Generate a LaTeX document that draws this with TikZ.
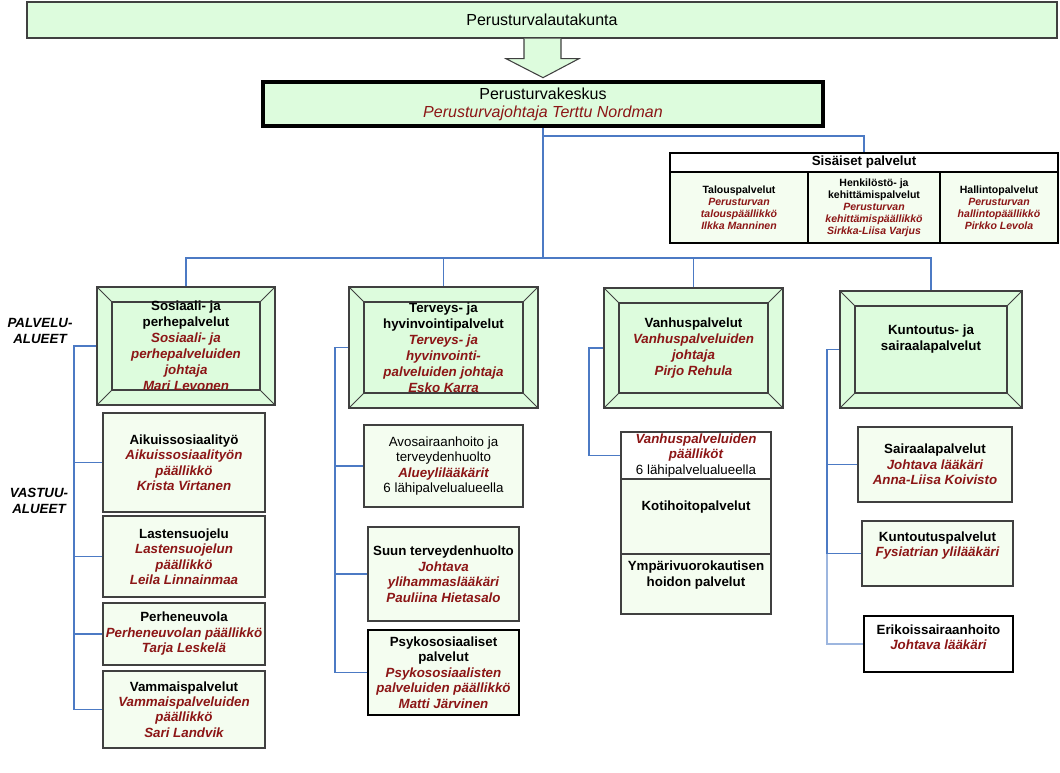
\documentclass[tikz,border=0pt]{standalone}
\usepackage{fontspec}
\setmainfont{Liberation Sans}
\definecolor{PaleGreen}{RGB}{221,252,221}
\definecolor{MintWhite}{RGB}{244,253,240}
\definecolor{DarkRed}{RGB}{140,22,22}
\definecolor{LineBlue}{RGB}{76,122,196}
\definecolor{FrameGray}{RGB}{64,64,64}
\newcommand{\resp}[1]{\textcolor{DarkRed}{\bfseries\itshape #1}}
\tikzset{
  boxsize/.style 2 args={minimum width=#1*0.75pt, minimum height=#2*0.75pt},
  topbox/.style={draw=FrameGray, fill=PaleGreen, line width=1pt, inner sep=1pt,
                 font=\fontsize{12}{14}\selectfont},
  headbox/.style={draw=black, fill=PaleGreen, line width=3pt, inner sep=1pt, align=center,
                  font=\fontsize{12}{13.5}\selectfont},
  bevel/.style={draw=FrameGray, fill=PaleGreen, line width=1.2pt, inner sep=1pt, align=center,
                font=\fontsize{10}{12}\selectfont\bfseries,
                path picture={
                  \coordinate (nw) at (path picture bounding box.north west);
                  \coordinate (ne) at (path picture bounding box.north east);
                  \coordinate (sw) at (path picture bounding box.south west);
                  \coordinate (se) at (path picture bounding box.south east);
                  \draw[FrameGray, line width=1.2pt] ([shift={(15,15)}]nw) rectangle ([shift={(-15,-15)}]se);
                  \draw[FrameGray, line width=0.6pt] (nw) -- ++(15,15) (ne) -- ++(-15,15)
                       (sw) -- ++(15,-15) (se) -- ++(-15,-15);
                }},
  sishead/.style={draw=black, fill=white, line width=1.1pt, inner sep=1pt,
                  font=\fontsize{10}{12}\selectfont\bfseries},
  siscol/.style={draw=black, fill=MintWhite, line width=1.1pt, inner sep=1pt, align=center,
                 font=\fontsize{7.9}{9}\selectfont\bfseries},
  unitbox/.style={draw=FrameGray, fill=MintWhite, line width=0.9pt, inner sep=1pt, align=center,
                  font=\fontsize{10}{11.6}\selectfont\bfseries},
  areatag/.style={align=center, font=\fontsize{10}{12}\selectfont\bfseries\itshape},
  link/.style={draw=LineBlue, line width=1.1pt}
}
\begin{document}
\begin{tikzpicture}[x=0.75pt, y=-0.75pt]
\useasboundingbox (0,0) rectangle (1060,773);

% top levels
\node[topbox, boxsize={1030}{36}] (lauta) at (542,20) {Perusturvalautakunta};
\draw[draw=FrameGray, fill=PaleGreen, line width=0.8pt] (lauta.south) ++(-18,0) -- ++(0,20) -- ++(-18,0)
     -- ++(37,19) -- ++(36,-19) -- ++(-18,0) -- ++(0,-20);
\node[headbox, boxsize={560}{44}] (kesk) at (543,104)
  {Perusturvakeskus\\\textcolor{DarkRed}{\itshape Perusturvajohtaja Terttu Nordman}};

% internal services
\node[sishead, boxsize={388}{19}] (sis) at (864,162.5) {Sisäiset palvelut};
\node[siscol, boxsize={138}{71}] (talo) at (739,207.5)
  {Talouspalvelut\\\resp{Perusturvan}\\\resp{talouspäällikkö}\\\resp{Ilkka Manninen}};
\node[siscol, boxsize={132}{71}] (henk) at (874,207.5)
  {Henkilöstö- ja\\kehittämispalvelut\\\resp{Perusturvan}\\\resp{kehittämispäällikkö}\\\resp{Sirkka-Liisa Varjus}};
\node[siscol, boxsize={118}{71}] (hall) at (999,207.5)
  {Hallintopalvelut\\\resp{Perusturvan}\\\resp{hallintopäällikkö}\\\resp{Pirkko Levola}};

% service areas
\node[bevel, boxsize={178}{118}] (sos) at (186,346)
  {Sosiaali- ja\\perhepalvelut\\\resp{Sosiaali- ja}\\\resp{perhepalveluiden}\\\resp{johtaja}\\\resp{Mari Levonen}};
\node[bevel, boxsize={189}{121}] (terv) at (443.5,347.5)
  {Terveys- ja\\hyvinvointipalvelut\\\resp{Terveys- ja}\\\resp{hyvinvointi-}\\\resp{palveluiden johtaja}\\\resp{Esko Karra}};
\node[bevel, boxsize={179}{120}] (vanh) at (693.5,348)
  {Vanhuspalvelut\\\resp{Vanhuspalveluiden}\\\resp{johtaja}\\\resp{Pirjo Rehula}};
\node[bevel, boxsize={182}{117}, text depth=17pt] (kunt) at (931,349.5)
  {Kuntoutus- ja\\sairaalapalvelut};

\node[areatag] (palv) at (40,331) {PALVELU-\\ALUEET};
\node[areatag] (vast) at (39,501) {VASTUU-\\ALUEET};

% responsibility areas
\node[unitbox, boxsize={162}{99}, text depth=-10.5pt] (aik) at (184,462.5)
  {Aikuissosiaalityö\\\resp{Aikuissosiaalityön}\\\resp{päällikkö}\\\resp{Krista Virtanen}};
\node[unitbox, boxsize={162}{81}] (last) at (184,556.5)
  {Lastensuojelu\\\resp{Lastensuojelun}\\\resp{päällikkö}\\\resp{Leila Linnainmaa}};
\node[unitbox, boxsize={162}{62}] (perh) at (184,634)
  {Perheneuvola\\\resp{Perheneuvolan päällikkö}\\\resp{Tarja Leskelä}};
\node[unitbox, boxsize={162}{77}] (vamm) at (184,709.5)
  {Vammaispalvelut\\\resp{Vammaispalveluiden}\\\resp{päällikkö}\\\resp{Sari Landvik}};

\node[unitbox, boxsize={159}{82}] (avo) at (443.5,466)
  {\textmd{Avosairaanhoito ja}\\\textmd{terveydenhuolto}\\\resp{Alueylilääkärit}\\\textmd{6 lähipalvelualueella}};
\node[unitbox, boxsize={151}{94}, text depth=-10.5pt] (suun) at (443.5,574)
  {Suun terveydenhuolto\\\resp{Johtava}\\\resp{ylihammaslääkäri}\\\resp{Pauliina Hietasalo}};
\node[unitbox, draw=black, boxsize={151}{85}] (psyk) at (443.5,672.5)
  {Psykososiaaliset\\palvelut\\\resp{Psykososiaalisten}\\\resp{palveluiden päällikkö}\\\resp{Matti Järvinen}};

\node[unitbox, fill=white, boxsize={150}{47}] (vpaal) at (696,455.5)
  {\resp{Vanhuspalveluiden}\\\resp{päälliköt}\\\textmd{6 lähipalvelualueella}};
\node[unitbox, boxsize={150}{75}, text depth=15.6pt] (koti) at (696,516.5) {Kotihoitopalvelut};
\node[unitbox, boxsize={150}{60}, text depth=15.6pt] (ymp) at (696,584)
  {Ympärivuorokautisen\\hoidon palvelut};

\node[unitbox, boxsize={154}{75}] (sair) at (935,464.5)
  {Sairaalapalvelut\\\resp{Johtava lääkäri}\\\resp{Anna-Liisa Koivisto}};
\node[unitbox, boxsize={151}{65}, text depth=14pt] (kunto) at (937.5,553.5)
  {Kuntoutuspalvelut\\\resp{Fysiatrian ylilääkäri}};
\node[unitbox, draw=black, fill=white, boxsize={149}{56}, text depth=10.5pt] (erik) at (938.5,644)
  {Erikoissairaanhoito\\\resp{Johtava lääkäri}};

% connectors
\coordinate (bus) at (543,258);
\coordinate (sx) at (74,0);
\coordinate (tx) at (335,0);
\coordinate (vx) at (589,0);
\coordinate (kx) at (827,0);
\draw[link] (kesk.south) -- (bus);
\draw[link] (kesk.south |- 0,136) -| (sis.north);
\draw[link] (sos.north) -- (sos.north |- bus) -- (kunt.north |- bus) -- (kunt.north);
\draw[link] (terv.north) -- (terv.north |- bus);
\draw[link, line width=0.7pt] (vanh.north) -- (vanh.north |- bus);

\draw[link] (sos.west) -- (sos.west -| sx) |- (vamm.west);
\foreach \n in {aik,last,perh}
  \draw[link] (\n.west) -- (\n.west -| sx);
\draw[link] (terv.west) -- (terv.west -| tx) |- (psyk.west);
\foreach \n in {avo,suun}
  \draw[link] (\n.west) -- (\n.west -| tx);
\draw[link] (vanh.west) -- (vanh.west -| vx) |- (vpaal.west);
\draw[link] (kunt.west) -- (kunt.west -| kx) |- (kunto.west);
\draw[link] (sair.west) -- (sair.west -| kx);
\draw[link, draw=LineBlue!55, line width=0.8pt] (kunto.west -| kx) |- (erik.west);
\end{tikzpicture}
\end{document}
